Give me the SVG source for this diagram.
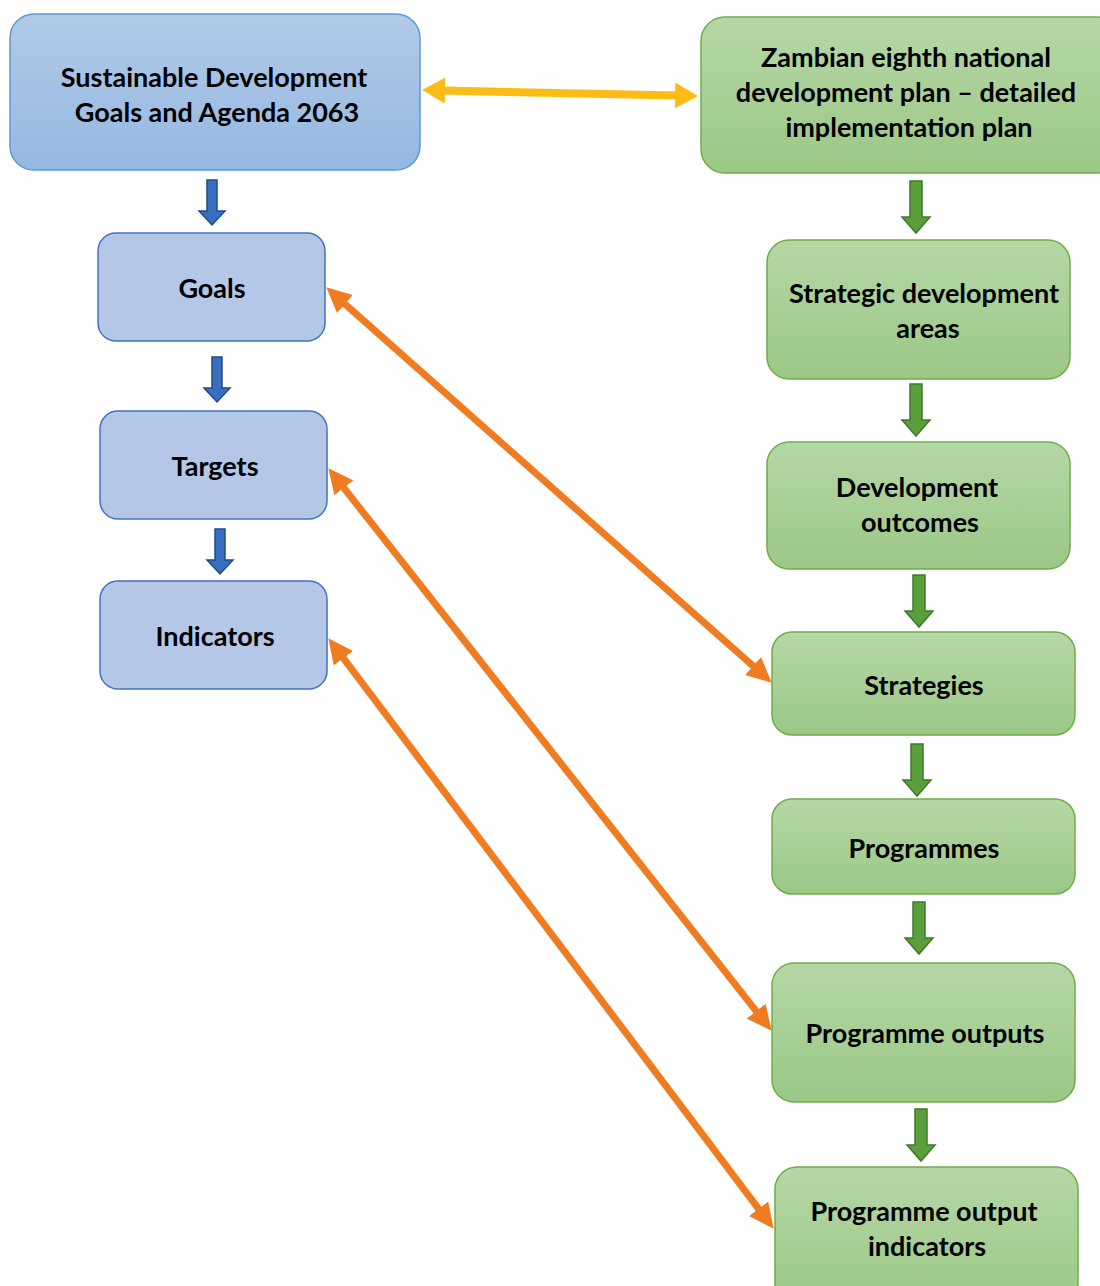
<svg xmlns="http://www.w3.org/2000/svg" width="1100" height="1286" viewBox="0 0 1100 1286">
<defs>
<linearGradient id="gBlue" x1="0" y1="0" x2="0" y2="1"><stop offset="0" stop-color="#b1cae8"/><stop offset="1" stop-color="#95b8e1"/></linearGradient>
<linearGradient id="gGreen" x1="0" y1="0" x2="0" y2="1"><stop offset="0" stop-color="#b6d7a6"/><stop offset="1" stop-color="#9bc886"/></linearGradient>
<path id="aBlue" d="M-5,0 H5 V31 H13 L0,45 L-13,31 H-5 Z"/>
<path id="aGreen" d="M-6,0 H6 V36 H14 L0,52 L-14,36 H-6 Z"/>
<marker id="mOrange" viewBox="0 -12 25 24" refX="1" refY="0" markerWidth="25" markerHeight="24" markerUnits="userSpaceOnUse" orient="auto-start-reverse"><path d="M0,-12 L25,0 L0,12 Z" fill="#f07c22"/></marker>
<marker id="mYellow" viewBox="0 -13 23 26" refX="1" refY="0" markerWidth="23" markerHeight="26" markerUnits="userSpaceOnUse" orient="auto-start-reverse"><path d="M0,-13 L23,0 L0,13 Z" fill="#fbbc15"/></marker>
</defs>
<style>
.big{fill:url(#gBlue);stroke:#5b9bd5;stroke-width:1.5}
.small{fill:#b4c7e7;stroke:#4472c4;stroke-width:1.5}
.grn{fill:url(#gGreen);stroke:#70ad47;stroke-width:1.5}
text{font-family:Lato,"Open Sans","Liberation Sans",sans-serif;font-weight:bold;font-size:27px;fill:#000;text-anchor:middle}
.ab{fill:#3a6fbf;stroke:#1f4e8c;stroke-width:1.5}
.ag{fill:#5a9f3c;stroke:#3f7a2a;stroke-width:1.5}
.or{stroke:#f07c22;stroke-width:7;fill:none;marker-start:url(#mOrange);marker-end:url(#mOrange)}
.ye{stroke:#fbbc15;stroke-width:8;fill:none;marker-start:url(#mYellow);marker-end:url(#mYellow)}
</style>
<rect width="1100" height="1286" fill="#fff"/>
<g id="sdg"><rect class="big" x="10" y="14" width="410" height="156" rx="24"/><text x="214" y="87">Sustainable Development</text><text x="217" y="122">Goals and Agenda 2063</text></g>
<g id="zambia"><rect class="grn" x="701" y="17" width="420" height="156" rx="24"/><text x="906" y="67">Zambian eighth national</text><text x="906" y="102">development plan – detailed</text><text x="909" y="137">implementation plan</text></g>
<g id="goals"><rect class="small" x="98" y="233" width="227" height="108" rx="18"/><text x="212" y="298">Goals</text></g>
<g id="targets"><rect class="small" x="100" y="411" width="227" height="108" rx="18"/><text x="215" y="476">Targets</text></g>
<g id="indicators"><rect class="small" x="100" y="581" width="227" height="108" rx="18"/><text x="215" y="646">Indicators</text></g>
<g id="sda"><rect class="grn" x="767" y="240" width="303" height="139" rx="22"/><text x="924" y="303">Strategic development</text><text x="928" y="338">areas</text></g>
<g id="outcomes"><rect class="grn" x="767" y="442" width="303" height="127" rx="22"/><text x="917" y="497">Development</text><text x="920" y="532">outcomes</text></g>
<g id="strategies"><rect class="grn" x="772" y="632" width="303" height="103" rx="20"/><text x="924" y="695">Strategies</text></g>
<g id="programmes"><rect class="grn" x="772" y="799" width="303" height="95" rx="20"/><text x="924" y="858">Programmes</text></g>
<g id="outputs"><rect class="grn" x="772" y="963" width="303" height="139" rx="22"/><text x="925" y="1043">Programme outputs</text></g>
<g id="outind"><rect class="grn" x="775" y="1167" width="303" height="140" rx="22"/><text x="924" y="1221">Programme output</text><text x="927" y="1256">indicators</text></g>
<g id="connectors">
<line class="ye" x1="444" y1="90.5" x2="676" y2="95.5"/>
<use href="#aBlue" class="ab" x="212" y="180"/>
<use href="#aBlue" class="ab" x="217" y="357"/>
<use href="#aBlue" class="ab" x="220" y="529"/>
<use href="#aGreen" class="ag" x="916" y="181"/>
<use href="#aGreen" class="ag" x="916" y="384"/>
<use href="#aGreen" class="ag" x="919" y="575"/>
<use href="#aGreen" class="ag" x="917" y="744"/>
<use href="#aGreen" class="ag" x="919" y="902"/>
<use href="#aGreen" class="ag" x="921" y="1109"/>
<line class="or" x1="344.2" y1="303.3" x2="753.8" y2="666.7"/>
<line class="or" x1="343.2" y1="487.1" x2="756.8" y2="1011.9"/>
<line class="or" x1="342.8" y1="657.4" x2="759.2" y2="1209.6"/>
</g>
</svg>
